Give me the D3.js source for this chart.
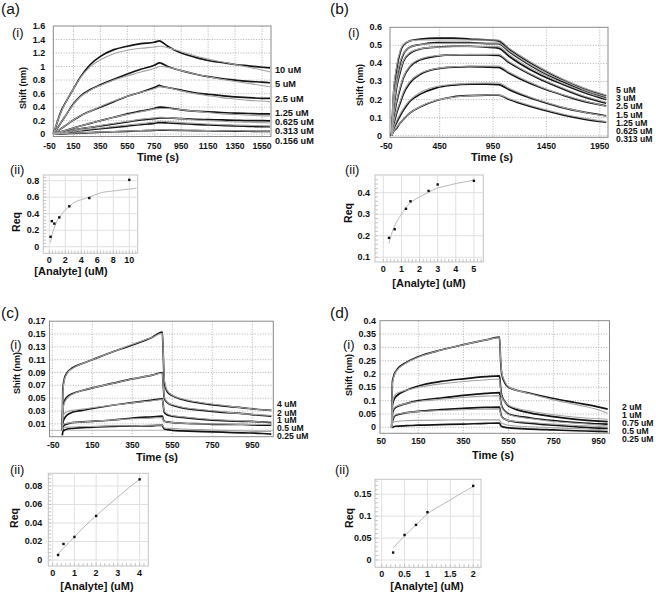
<!DOCTYPE html>
<html><head><meta charset="utf-8">
<script src="https://cdn.jsdelivr.net/npm/d3@7"></script>
<style>
body{margin:0;background:#fff}
svg{display:block}
text{font-family:"Liberation Sans",Arial,sans-serif;fill:#111}
</style>
</head><body><svg id="c" width="656" height="592"></svg>
<script>
// ---------------- (a) sensorgram ----------------
const aTime = [0,25,50,100,150,200,275,350,450,550,650,750,790,800,850,950,1050,1150,1250,1350,1450,1550,1610];
const a10Obs = [0,0.15,0.3,0.5,0.67,0.84,1.03,1.15,1.25,1.3,1.34,1.36,1.38,1.37,1.3,1.2,1.14,1.09,1.06,1.03,1.01,0.99,0.98];
const a10Fit = [0,0.15,0.29,0.5,0.67,0.83,1.0,1.1,1.19,1.24,1.27,1.29,1.3,1.3,1.28,1.22,1.16,1.11,1.07,1.03,0.99,0.95,0.92];
const a5Obs = [0,0.07,0.15,0.3,0.45,0.56,0.66,0.73,0.81,0.89,0.96,1.02,1.055,1.05,1.0,0.94,0.89,0.85,0.82,0.8,0.78,0.77,0.76];
const a5Fit = [0,0.07,0.15,0.3,0.44,0.55,0.65,0.72,0.8,0.86,0.92,0.97,1.0,1.0,0.99,0.94,0.89,0.85,0.81,0.78,0.75,0.72,0.7];
const a25Obs = [0,0.03,0.07,0.14,0.21,0.27,0.34,0.4,0.48,0.56,0.62,0.69,0.72,0.71,0.69,0.65,0.61,0.59,0.57,0.55,0.54,0.53,0.53];
const a25Fit = [0,0.03,0.07,0.14,0.21,0.27,0.34,0.41,0.49,0.56,0.62,0.67,0.7,0.7,0.69,0.64,0.6,0.57,0.54,0.52,0.5,0.49,0.48];
const a125Obs = [0,0.015,0.03,0.06,0.09,0.12,0.16,0.2,0.25,0.3,0.34,0.38,0.4,0.4,0.39,0.36,0.34,0.33,0.32,0.31,0.305,0.3,0.3];
const a125Fit = [0,0.015,0.03,0.06,0.09,0.12,0.16,0.2,0.25,0.29,0.33,0.37,0.38,0.38,0.38,0.36,0.34,0.32,0.3,0.29,0.28,0.27,0.27];
const a0625Obs = [0,0.01,0.02,0.04,0.06,0.08,0.1,0.12,0.15,0.18,0.21,0.23,0.24,0.24,0.24,0.23,0.22,0.215,0.21,0.205,0.2,0.2,0.195];
const a0625Fit = [0,0.01,0.02,0.04,0.06,0.08,0.1,0.13,0.16,0.19,0.22,0.24,0.25,0.25,0.245,0.23,0.21,0.2,0.19,0.18,0.175,0.17,0.165];
const a0313Obs = [0,0.005,0.01,0.02,0.035,0.05,0.065,0.08,0.1,0.12,0.14,0.16,0.17,0.17,0.165,0.155,0.145,0.135,0.13,0.12,0.115,0.11,0.11];
const a0313Fit = [0,0.006,0.012,0.025,0.04,0.055,0.075,0.09,0.115,0.135,0.155,0.18,0.19,0.19,0.185,0.17,0.16,0.15,0.14,0.135,0.13,0.125,0.12];
const a0156Obs = [0,0.002,0.004,0.008,0.012,0.016,0.022,0.028,0.035,0.042,0.05,0.056,0.06,0.06,0.058,0.055,0.052,0.05,0.047,0.045,0.043,0.04,0.04];
const a0156Fit = [0,0.002,0.005,0.01,0.014,0.019,0.025,0.031,0.039,0.046,0.054,0.061,0.065,0.065,0.063,0.06,0.057,0.054,0.051,0.049,0.047,0.045,0.044];
const aConcLabels = ["10 uM","5 uM","2.5 uM","1.25 uM","0.625 uM","0.313 uM","0.156 uM"];
const aXTicks = [-50,150,350,550,750,950,1150,1350,1550];
const aYTicks = [0,0.2,0.4,0.6,0.8,1,1.2,1.4,1.6];

// ---------------- (b) sensorgram ----------------
const bTime = [0,15,45,80,110,170,270,420,580,730,890,1000,1100,1200,1400,1600,1800,2010];
const b5Obs = [0,0.2,0.36,0.46,0.5,0.525,0.535,0.54,0.54,0.535,0.53,0.525,0.48,0.44,0.37,0.31,0.26,0.22];
const b5Fit = [0,0.22,0.38,0.47,0.505,0.525,0.53,0.53,0.53,0.53,0.53,0.53,0.485,0.445,0.375,0.315,0.265,0.225];
const b3Obs = [0,0.15,0.3,0.4,0.45,0.49,0.505,0.515,0.515,0.515,0.51,0.51,0.465,0.425,0.355,0.3,0.25,0.21];
const b3Fit = [0,0.16,0.31,0.41,0.455,0.49,0.505,0.51,0.512,0.512,0.512,0.512,0.47,0.43,0.36,0.305,0.255,0.215];
const b25Obs = [0,0.12,0.26,0.35,0.41,0.455,0.48,0.49,0.495,0.495,0.49,0.485,0.44,0.4,0.335,0.285,0.24,0.2];
const b25Fit = [0,0.13,0.27,0.36,0.415,0.46,0.482,0.49,0.492,0.493,0.493,0.493,0.45,0.41,0.345,0.29,0.245,0.205];
const b15Obs = [0,0.08,0.18,0.26,0.32,0.38,0.42,0.44,0.447,0.447,0.447,0.445,0.405,0.37,0.31,0.26,0.215,0.18];
const b15Fit = [0,0.09,0.19,0.27,0.325,0.385,0.425,0.443,0.448,0.45,0.45,0.45,0.41,0.375,0.315,0.265,0.22,0.185];
const b125Obs = [0,0.05,0.12,0.18,0.23,0.29,0.34,0.37,0.38,0.382,0.38,0.378,0.345,0.315,0.265,0.225,0.19,0.165];
const b125Fit = [0,0.06,0.13,0.19,0.24,0.3,0.345,0.372,0.382,0.385,0.386,0.386,0.352,0.322,0.27,0.228,0.193,0.163];
const b0625Obs = [0,0.03,0.07,0.11,0.14,0.19,0.23,0.265,0.28,0.285,0.285,0.283,0.255,0.23,0.19,0.155,0.13,0.11];
const b0625Fit = [0,0.035,0.08,0.12,0.15,0.195,0.24,0.272,0.285,0.29,0.292,0.292,0.262,0.236,0.193,0.158,0.13,0.108];
const b0313Obs = [0,0.02,0.04,0.07,0.09,0.125,0.16,0.195,0.215,0.222,0.225,0.225,0.2,0.18,0.145,0.115,0.092,0.075];
const b0313Fit = [0,0.02,0.045,0.07,0.092,0.125,0.162,0.196,0.213,0.221,0.225,0.226,0.205,0.185,0.15,0.12,0.097,0.078];
const bConcLabels = ["5 uM","3 uM","2.5 uM","1.5 uM","1.25 uM","0.625 uM","0.313 uM"];
const bXTicks = [-50,450,950,1450,1950];
const bYTicks = [0,0.1,0.2,0.3,0.4,0.5,0.6];

// ---------------- (c) sensorgram ----------------
const cTime = [0,3,10,25,50,100,150,250,350,450,500,505,510,525,550,600,700,800,900,1000,1045];
const c4Obs = [0,0.065,0.08,0.09,0.097,0.104,0.11,0.122,0.133,0.145,0.153,0.115,0.075,0.06,0.054,0.048,0.042,0.038,0.035,0.032,0.031];
const c4Fit = [0,0.06,0.078,0.089,0.096,0.104,0.11,0.122,0.134,0.145,0.151,0.12,0.08,0.062,0.055,0.049,0.043,0.039,0.035,0.032,0.031];
const c2Obs = [0,0.035,0.045,0.052,0.057,0.062,0.066,0.073,0.08,0.086,0.09,0.07,0.05,0.043,0.039,0.035,0.031,0.028,0.026,0.023,0.022];
const c2Fit = [0,0.03,0.042,0.05,0.056,0.062,0.066,0.073,0.08,0.086,0.089,0.07,0.052,0.044,0.04,0.036,0.032,0.029,0.026,0.024,0.023];
const c1Obs = [0,0.012,0.018,0.024,0.028,0.031,0.034,0.039,0.043,0.047,0.049,0.038,0.028,0.024,0.022,0.02,0.017,0.015,0.014,0.013,0.012];
const c1Fit = [0,0.02,0.026,0.029,0.031,0.033,0.035,0.039,0.043,0.046,0.048,0.038,0.03,0.026,0.023,0.021,0.018,0.016,0.015,0.013,0.013];
const c05Obs = [0,0.004,0.008,0.01,0.012,0.013,0.014,0.016,0.019,0.021,0.022,0.017,0.014,0.013,0.012,0.011,0.01,0.009,0.009,0.008,0.008];
const c05Fit = [0,0.008,0.01,0.011,0.012,0.013,0.014,0.016,0.018,0.019,0.02,0.016,0.014,0.013,0.012,0.011,0.01,0.01,0.009,0.009,0.009];
const c025Obs = [-0.008,-0.002,0,0.002,0.003,0.004,0.005,0.006,0.007,0.007,0.008,0.004,0.002,0.001,0,-0.001,-0.002,-0.003,-0.004,-0.005,-0.006];
const c025Fit = [0,0.003,0.004,0.005,0.005,0.006,0.006,0.007,0.007,0.008,0.008,0.006,0.004,0.003,0.003,0.002,0.001,0,-0.001,-0.002,-0.002];
const cConcLabels = ["4 uM","2 uM","1 uM","0.5 uM","0.25 uM"];
const cXTicks = [-50,150,350,550,750,950];
const cYTicks = [0.01,0.03,0.05,0.07,0.09,0.11,0.13,0.15,0.17];

// ---------------- (d) sensorgram ----------------
const dTime = [32,35,40,50,100,150,250,350,450,510,515,520,535,550,650,750,850,950,990];
const d2Obs = [0,0.17,0.19,0.21,0.245,0.265,0.29,0.31,0.328,0.338,0.25,0.2,0.165,0.15,0.127,0.108,0.092,0.076,0.068];
const d2Fit = [0,0.16,0.185,0.207,0.243,0.263,0.29,0.31,0.328,0.336,0.26,0.205,0.17,0.152,0.125,0.103,0.085,0.065,0.053];
const d1Obs = [0,0.08,0.1,0.115,0.14,0.155,0.172,0.182,0.19,0.193,0.15,0.12,0.095,0.08,0.053,0.04,0.03,0.023,0.021];
const d1Fit = [0,0.09,0.11,0.125,0.14,0.15,0.163,0.172,0.178,0.181,0.14,0.115,0.095,0.083,0.06,0.047,0.038,0.032,0.03];
const d075Obs = [0,0.05,0.065,0.075,0.09,0.1,0.11,0.12,0.127,0.13,0.1,0.08,0.06,0.05,0.035,0.025,0.018,0.013,0.012];
const d075Fit = [0,0.06,0.07,0.078,0.09,0.097,0.105,0.112,0.117,0.119,0.095,0.075,0.058,0.048,0.032,0.022,0.015,0.009,0.006];
const d05Obs = [0,0.02,0.035,0.045,0.055,0.06,0.066,0.071,0.075,0.076,0.055,0.04,0.03,0.025,0.015,0.008,0.002,-0.003,-0.004];
const d05Fit = [0,0.03,0.04,0.048,0.055,0.059,0.063,0.066,0.068,0.069,0.05,0.038,0.03,0.026,0.018,0.012,0.007,0.003,0.001];
const d025Obs = [0,0,0.002,0.004,0.006,0.008,0.01,0.012,0.015,0.016,0.008,0.003,0,-0.002,-0.007,-0.01,-0.013,-0.015,-0.016];
const d025Fit = [0,0.015,0.02,0.022,0.025,0.026,0.027,0.028,0.028,0.028,0.02,0.015,0.011,0.008,0.002,-0.002,-0.005,-0.008,-0.009];
const dConcLabels = ["2 uM","1 uM","0.75 uM","0.5 uM","0.25 uM"];
const dXTicks = [-50,150,350,550,750,950];
const dXTickLabels = ["50","150","350","550","750","950"];
const dYTicks = [0,0.05,0.1,0.15,0.2,0.25,0.3,0.35,0.4];

// ---------------- (ii) saturation plots ----------------
const aConc = [0.156,0.313,0.625,1.25,2.5,5,10];
const aReq = [0.12,0.31,0.28,0.355,0.49,0.59,0.81];
const aFitConc = [0.15,0.3,0.6,0.9,1.3,1.75,2.3,3,4,5,6.3,8.4,10.9];
const aFitReq = [0.05,0.13,0.22,0.3,0.36,0.42,0.47,0.53,0.57,0.6,0.65,0.68,0.71];
const aIIXTicks = [0,2,4,6,8,10];
const aIIYTicks = [0,0.2,0.4,0.6,0.8];

const bConc = [0.313,0.625,1.25,1.5,2.5,3,5];
const bReq = [0.19,0.23,0.325,0.36,0.408,0.438,0.455];
const bFitConc = [0.31,0.5,0.74,1.0,1.29,1.6,2.0,2.5,2.94,3.5,4.04,4.5,5];
const bFitReq = [0.165,0.22,0.265,0.3,0.335,0.36,0.38,0.402,0.42,0.432,0.443,0.45,0.458];
const bIIXTicks = [0,1,2,3,4,5];
const bIIYTicks = [0.1,0.2,0.3,0.4];

const cConc = [0.25,0.5,1,2,4];
const cReq = [0.0054,0.0173,0.0249,0.0476,0.0872];
const cFitConc = [0.25,0.5,1,1.5,2,2.5,3,3.5,4];
const cFitReq = [0.0065,0.013,0.025,0.037,0.048,0.058,0.068,0.078,0.087];
const cIIXTicks = [0,1,2,3,4];
const cIIYTicks = [0,0.02,0.04,0.06,0.08];

const dConc = [0.25,0.5,0.75,1,2];
const dReq = [0.017,0.057,0.08,0.109,0.169];
const dFitConc = [0.25,0.5,0.75,1,1.25,1.5,1.75,2];
const dFitReq = [0.027,0.055,0.08,0.105,0.122,0.137,0.153,0.167];
const dIIXTicks = [0,0.5,1,1.5,2];
const dIIYTicks = [0,0.05,0.1,0.15];

// ================= drawing =================
const svg = d3.select("#c");
const BLACK = "#141414", FITGRAY = "#a3a3a3";

function txt(g, s, x, y, opt) {
  const t = g.append("text").attr("x", x).attr("y", y).text(s)
    .attr("font-size", opt.size || 9)
    .attr("font-weight", opt.weight || "bold")
    .attr("text-anchor", opt.anchor || "middle")
    .attr("dominant-baseline", opt.base || "central");
  if (opt.rotate) t.attr("transform", `rotate(-90,${x},${y})`);
  return t;
}

function sensorgram(p) {
  const g = svg.append("g");
  const x = d3.scaleLinear().domain(p.xDom).range([p.L, p.R]);
  const y = d3.scaleLinear().domain(p.yDom).range([p.B, p.T]);
  g.selectAll(null).data(p.yTicks.filter(v => y(v) > p.T + 0.5 && y(v) < p.B - 0.5)).join("line")
    .attr("x1", p.L).attr("x2", p.R).attr("y1", d => y(d)).attr("y2", d => y(d))
    .attr("stroke", "#9e9e9e").attr("stroke-width", 0.8).attr("stroke-dasharray", "1,1.6");
  g.selectAll(null).data(p.xTicks.filter(v => x(v) > p.L + 2 && x(v) < p.R - 1)).join("line")
    .attr("y1", p.T).attr("y2", p.B).attr("x1", d => x(d)).attr("x2", d => x(d))
    .attr("stroke", "#9e9e9e").attr("stroke-width", 0.8).attr("stroke-dasharray", "1,1.6");
  if (p.zeroLine) {
    g.append("line").attr("x1", p.L).attr("x2", p.R).attr("y1", y(0)).attr("y2", y(0))
      .attr("stroke", "#b5b5b5").attr("stroke-width", 1);
  }
  g.append("rect").attr("x", p.L).attr("y", p.T).attr("width", p.R - p.L).attr("height", p.B - p.T)
    .attr("fill", "none").attr("stroke", "#8a8a8a").attr("stroke-width", 1);
  const line = d3.line().x((d, i) => x(p.time[i])).y(d => y(d)).curve(d3.curveMonotoneX);
  const cg = g.append("g");
  p.obs.forEach(s => cg.append("path").attr("d", line(s)).attr("fill", "none")
    .attr("stroke", BLACK).attr("stroke-width", 1.7).attr("stroke-linejoin", "round"));
  p.fit.forEach(s => cg.append("path").attr("d", line(s)).attr("fill", "none")
    .attr("stroke", FITGRAY).attr("stroke-width", 1.1));
  p.yTicks.forEach(v => txt(g, String(v), p.L - p.yGap, y(v), {anchor: "end", size: 9}));
  p.xTicks.forEach((v, i) => txt(g, p.xLabels ? p.xLabels[i] : String(v), x(v) + (i === 0 ? p.firstDx : 0), p.xLabY, {size: 8.6}));
  txt(g, "Time (s)", p.timeX, p.timeY, {size: 11});
  txt(g, "Shift (nm)", p.shiftX, p.shiftY, {size: 9, rotate: true});
  p.concLabels.forEach((s, i) => txt(g, s, p.concX, p.concY[i], {anchor: "start", size: p.concSize}));
}

function saturation(p) {
  const g = svg.append("g");
  const x = d3.scaleLinear().domain(p.xDom).range([p.L, p.R]);
  const y = d3.scaleLinear().domain(p.yDom).range([p.B, p.T]);
  g.append("rect").attr("x", p.L).attr("y", p.T).attr("width", p.R - p.L).attr("height", p.B - p.T)
    .attr("fill", "#fff").attr("stroke", "#c4c4c4").attr("stroke-width", 1);
  g.selectAll(null).data(p.yTicks).join("line")
    .attr("x1", p.L).attr("x2", p.R).attr("y1", d => y(d)).attr("y2", d => y(d))
    .attr("stroke", "#e0e0e0").attr("stroke-width", 1);
  g.selectAll(null).data(p.xTicks).join("line")
    .attr("y1", p.T).attr("y2", p.B).attr("x1", d => x(d)).attr("x2", d => x(d))
    .attr("stroke", "#e0e0e0").attr("stroke-width", 1);
  const xs = p.xTicks[1] - p.xTicks[0], ys = p.yTicks[1] - p.yTicks[0];
  const xm = d3.range(p.xTicks[0], p.xDom[1], xs / 5).filter(v => x(v) > p.L + 1 && x(v) < p.R - 1);
  const ym = d3.range(p.yTicks[0], p.yDom[1], ys / 5).filter(v => y(v) > p.T + 1 && y(v) < p.B - 1);
  g.selectAll(null).data(xm).join("line").attr("x1", d => x(d)).attr("x2", d => x(d))
    .attr("y1", p.B - 3).attr("y2", p.B).attr("stroke", "#b8b8b8").attr("stroke-width", 0.8);
  g.selectAll(null).data(ym).join("line").attr("y1", d => y(d)).attr("y2", d => y(d))
    .attr("x1", p.L).attr("x2", p.L + 3).attr("stroke", "#b8b8b8").attr("stroke-width", 0.8);
  const line = d3.line().x((d, i) => x(p.fitX[i])).y(d => y(d)).curve(d3.curveMonotoneX);
  g.append("path").attr("d", line(p.fitY)).attr("fill", "none").attr("stroke", "#b9b9b9").attr("stroke-width", 1);
  g.selectAll(null).data(p.ptY).join("rect")
    .attr("x", (d, i) => x(p.ptX[i]) - 1.2).attr("y", d => y(d) - 1.2)
    .attr("width", 2.4).attr("height", 2.4).attr("fill", "#111");
  p.yTicks.forEach(v => txt(g, String(v), p.L - p.yGap, y(v), {anchor: "end", size: 9}));
  p.xTicks.forEach(v => txt(g, String(v), x(v), p.xLabY, {size: 9}));
  txt(g, "[Analyte] (uM)", p.anX, p.anY, {size: 11});
  txt(g, "Req", p.reqX, p.reqY, {size: 10.5, rotate: true});
}

[["(a)", 1, 13.5], ["(b)", 330, 13.5], ["(c)", 1, 318], ["(d)", 330, 318]].forEach(d =>
  txt(svg, d[0], d[1], d[2], {anchor: "start", size: 15.5, weight: "normal", base: "auto"}));
[["(i)", 12, 37], ["(i)", 348, 37], ["(i)", 10, 349], ["(i)", 343, 349],
 ["(ii)", 10, 174], ["(ii)", 345, 174], ["(ii)", 10, 474], ["(ii)", 335, 474]].forEach(d =>
  txt(svg, d[0], d[1], d[2], {anchor: "start", size: 13, weight: "normal", base: "auto"}));

sensorgram({L: 53.3, R: 271, T: 26, B: 136.5, xDom: [0, 1617], yDom: [-0.035, 1.6],
  time: aTime, obs: [a10Obs, a5Obs, a25Obs, a125Obs, a0625Obs, a0313Obs, a0156Obs],
  fit: [a10Fit, a5Fit, a25Fit, a125Fit, a0625Fit, a0313Fit, a0156Fit],
  xTicks: aXTicks, yTicks: aYTicks, yGap: 8, xLabY: 146, firstDx: 3,
  timeX: 158, timeY: 157, shiftX: 23, shiftY: 88,
  concLabels: aConcLabels, concSize: 9.2, concX: 275, concY: [70, 84, 99, 113, 122, 131, 141]});

sensorgram({L: 390, R: 608, T: 27.3, B: 137.3, xDom: [-15, 2027], yDom: [-0.009, 0.6],
  time: bTime, obs: [b5Obs, b3Obs, b25Obs, b15Obs, b125Obs, b0625Obs, b0313Obs],
  fit: [b5Fit, b3Fit, b25Fit, b15Fit, b125Fit, b0625Fit, b0313Fit],
  xTicks: bXTicks, yTicks: bYTicks, yGap: 8, xLabY: 146, firstDx: 0,
  timeX: 492, timeY: 157, shiftX: 360, shiftY: 85,
  concLabels: bConcLabels, concSize: 8.6, concX: 616, concY: [90, 98, 106, 114.5, 122.5, 130.5, 139]});

sensorgram({L: 49.5, R: 273.3, T: 321.2, B: 436.7, xDom: [-64, 1055], yDom: [-0.01, 0.17],
  time: cTime, obs: [c4Obs, c2Obs, c1Obs, c05Obs, c025Obs],
  fit: [c4Fit, c2Fit, c1Fit, c05Fit, c025Fit], zeroLine: true,
  xTicks: cXTicks, yTicks: cYTicks, yGap: 4, xLabY: 445, firstDx: 1,
  timeX: 157, timeY: 457, shiftX: 17, shiftY: 373,
  concLabels: cConcLabels, concSize: 8.6, concX: 277, concY: [404, 412.5, 420, 428, 436]});

sensorgram({L: 380, R: 609.5, T: 320.7, B: 433.3, xDom: [-20, 998], yDom: [-0.0225, 0.4],
  time: dTime, obs: [d2Obs, d1Obs, d075Obs, d05Obs, d025Obs],
  fit: [d2Fit, d1Fit, d075Fit, d05Fit, d025Fit],
  xTicks: dXTicks, xLabels: dXTickLabels, yTicks: dYTicks, yGap: 4, xLabY: 441, firstDx: 8,
  timeX: 493, timeY: 455, shiftX: 349, shiftY: 375,
  concLabels: dConcLabels, concSize: 8.6, concX: 622, concY: [407, 415, 423, 431, 438.5]});

saturation({L: 43.3, R: 137.7, T: 175, B: 253.3, xDom: [-0.75, 11.05], yDom: [-0.08, 0.869],
  ptX: aConc, ptY: aReq, fitX: aFitConc, fitY: aFitReq, xTicks: aIIXTicks, yTicks: aIIYTicks,
  yGap: 4, xLabY: 260, anX: 71, anY: 271, reqX: 16, reqY: 222});
saturation({L: 375, R: 483.3, T: 175, B: 262, xDom: [-0.46, 5.52], yDom: [0.078, 0.482],
  ptX: bConc, ptY: bReq, fitX: bFitConc, fitY: bFitReq, xTicks: bIIXTicks, yTicks: bIIYTicks,
  yGap: 5, xLabY: 268.5, anX: 429, anY: 283, reqX: 348, reqY: 213});
saturation({L: 48.3, R: 148.3, T: 473.3, B: 566, xDom: [-0.2, 4.4], yDom: [-0.0065, 0.0937],
  ptX: cConc, ptY: cReq, fitX: cFitConc, fitY: cFitReq, xTicks: cIIXTicks, yTicks: cIIYTicks,
  yGap: 6, xLabY: 573, anX: 97, anY: 586, reqX: 13.5, reqY: 518});
saturation({L: 375, R: 481, T: 479.3, B: 567.3, xDom: [-0.146, 2.17], yDom: [-0.0167, 0.184],
  ptX: dConc, ptY: dReq, fitX: dFitConc, fitY: dFitReq, xTicks: dIIXTicks, yTicks: dIIYTicks,
  yGap: 3.5, xLabY: 573.5, anX: 427, anY: 586, reqX: 348.5, reqY: 518});
</script></body></html>
